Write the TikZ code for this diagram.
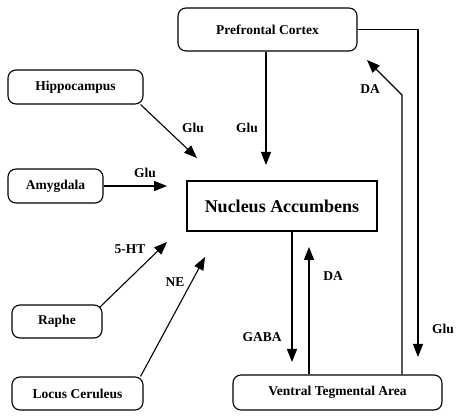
\documentclass[tikz,border=0pt]{standalone}
\usepackage{fontspec}
\setmainfont{Liberation Serif}
\usetikzlibrary{arrows.meta}

\tikzset{
  region/.style={draw,line width=1.1pt,rounded corners=8pt,
    font=\fontsize{13.5}{16}\selectfont\bfseries},
  nacbox/.style={draw,line width=1.1pt,
    font=\fontsize{18}{21}\selectfont\bfseries},
  lbl/.style={font=\fontsize{13.5}{16}\selectfont\bfseries},
  proj/.style={line width=1.1pt,-{Triangle[length=13pt,width=10pt]}}
}

\begin{document}
\begin{tikzpicture}[x=1pt,y=-1pt]
\useasboundingbox (0,0) rectangle (463,419);

\node[region,minimum width=179pt,minimum height=43pt] (pfc) at (267.5,29.5) {Prefrontal Cortex};
\node[region,minimum width=135pt,minimum height=34pt] (hip) at (75.5,87) {Hippocampus};
\node[region,minimum width=95pt,minimum height=34pt] (amy) at (55.5,186) {Amygdala};
\node[region,minimum width=90pt,minimum height=33pt] (raphe) at (57,321.5) {Raphe};
\node[region,minimum width=131pt,minimum height=33pt] (lc) at (77.5,393.5) {Locus Ceruleus};
\node[nacbox,minimum width=190pt,minimum height=50pt] (nac) at (282,206) {Nucleus Accumbens};
\node[region,minimum width=209pt,minimum height=35pt] (vta) at (337.5,392.5) {Ventral Tegmental Area};

% free ends of the projections
\coordinate (hiptip) at (197,158);
\coordinate (amytip) at (167,186);
\coordinate (raphetip) at (167,242);
\coordinate (lctip) at (205,257);
\coordinate (pfctip) at (266,165);
\coordinate (gabatip) at (292,362);
\coordinate (datip) at (309,247);
\coordinate (vglutip) at (418,357);
\coordinate (vdatip) at (367,60);

\draw[proj] ([xshift=-3pt]hip.south east) -- (hiptip);
\draw[proj] (amy.east) -- (amytip);
\draw[proj] ([xshift=-3pt,yshift=-3pt]raphe.north east) -- (raphetip);
\draw[proj] ([xshift=-3pt]lc.north east) -- (lctip);
\draw[proj] (pfc.south -| pfctip) -- (pfctip);
\draw[proj] (nac.south -| gabatip) -- (gabatip);
\draw[proj] (vta.north -| datip) -- (datip);
\draw[proj] (pfc.east) -| (vglutip);
\draw[proj] (vta.north -| 402,0) -- (402,95) -- (vdatip);

\node[lbl] (lhip) at (193,128) {Glu};
\node[lbl] (lamy) at (145,173) {Glu};
\node[lbl] (lpfc) at (247,128) {Glu};
\node[lbl] (lraphe) at (130,249) {5-HT};
\node[lbl] (llc) at (175,282) {NE};
\node[lbl] (lgaba) at (262,337) {GABA};
\node[lbl] (lda) at (333,276) {DA};
\node[lbl] (lvda) at (370,89) {DA};
\node[lbl] (lvglu) at (443,329) {Glu};

\end{tikzpicture}
\end{document}
